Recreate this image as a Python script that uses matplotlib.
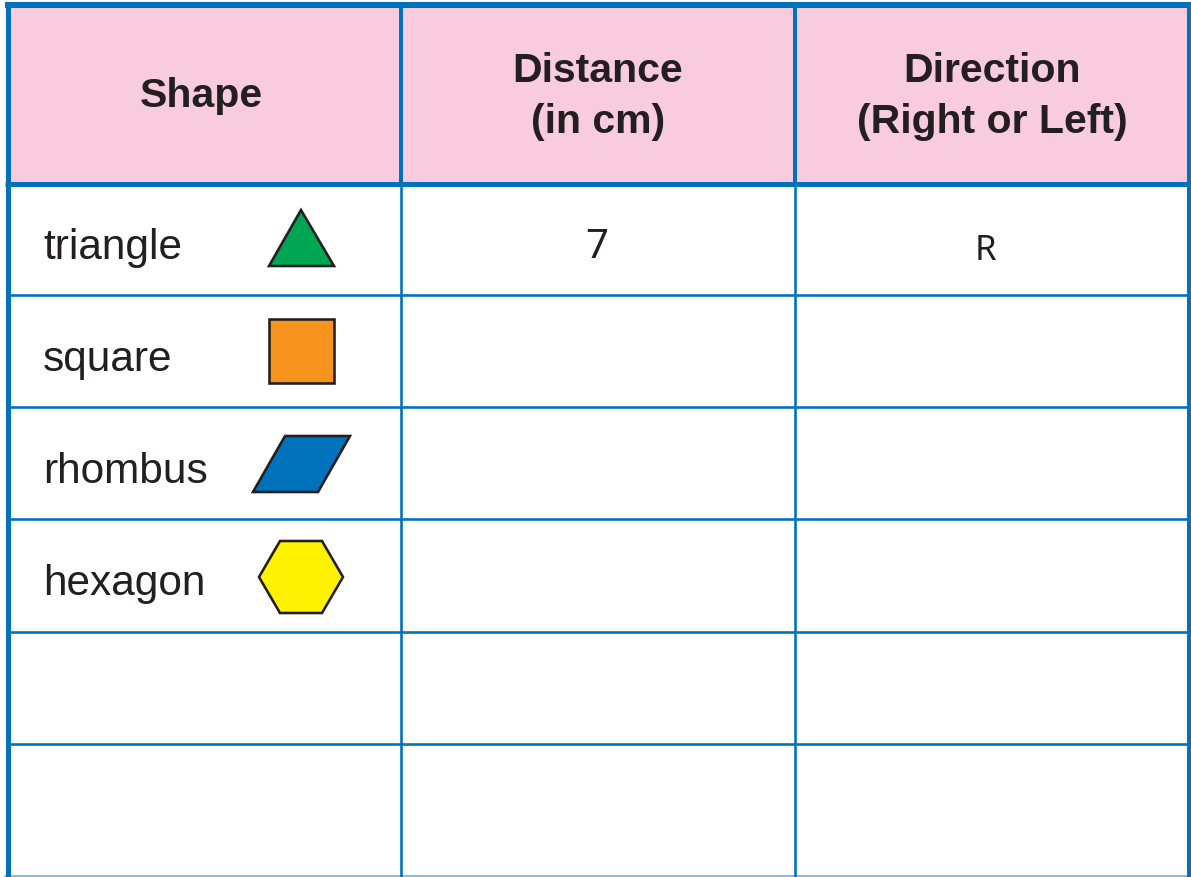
import matplotlib
matplotlib.use('Agg')
from matplotlib import pyplot as plt
from matplotlib.patches import Polygon, Rectangle

# table content
headers = [['Shape'], ['Distance', '(in cm)'], ['Direction', '(Right or Left)']]
shapes = ['triangle', 'square', 'rhombus', 'hexagon']
distance = ['7']
direction = ['R']

# layout, in pixels
W, H = 1191, 878
col_lines = [401, 795]
col_mid = [201, 598, 992]
row_lines = [296, 408, 520, 633, 745]
name_base = [259, 371, 483, 595]
BLUE = '#0072BC'
PINK = '#F9CBDF'
INK = '#231F20'

def px(n):
    return n * 72 / 100

fig = plt.figure(figsize=(W / 100, H / 100), dpi=100)
ax = fig.add_axes([0, 0, 1, 1])
ax.set_xlim(0, W)
ax.set_ylim(H, 0)
ax.axis('off')

# header band and borders
ax.add_patch(Rectangle((8, 6), W - 12, 179, fc=PINK, ec='none', zorder=1))
ax.plot([7.5, 7.5], [3, H], color=BLUE, lw=px(5), solid_capstyle='butt', zorder=3)
ax.plot([W - 2, W - 2], [3, H], color=BLUE, lw=px(5), solid_capstyle='butt', zorder=3)
ax.plot([5, W], [6, 6], color=BLUE, lw=px(6), solid_capstyle='butt', zorder=3)
ax.plot([5, W], [185, 185], color=BLUE, lw=px(5), solid_capstyle='butt', zorder=3)
ax.plot([5, W], [H - 0.5, H - 0.5], color='#5FA8D8', lw=px(1.5), zorder=2)

for x in col_lines:
    ax.plot([x, x], [6, 185], color=BLUE, lw=px(4), solid_capstyle='butt', zorder=2)
    ax.plot([x, x], [185, H], color=BLUE, lw=px(2.6), solid_capstyle='butt', zorder=2)
for y in row_lines:
    ax.plot([8, W - 3], [y, y], color=BLUE, lw=px(2.6), solid_capstyle='butt', zorder=2)

# header text
for x, lines in zip(col_mid, headers):
    bases = [107] if len(lines) == 1 else [82, 133]
    for b, line in zip(bases, lines):
        ax.text(x, b, line, family='Liberation Sans', weight='bold', fontsize=29.5,
                color=INK, ha='center', va='baseline')

for b, name in zip(name_base, shapes):
    ax.text(43, b, name, family='Liberation Sans', fontsize=30.5, color=INK,
            ha='left', va='baseline')

# the four pattern block icons
icons = [
    ([(301, 211), (334, 267), (269, 267)], '#00A651'),
    ([(269, 320), (334, 320), (334, 384), (269, 384)], '#F7941E'),
    ([(285, 437), (350, 437), (318, 493), (253, 493)], BLUE),
    ([(280, 542), (322, 542), (343, 578), (322, 614), (280, 614), (259, 578)], '#FFF200'),
]
for pts, col in icons:
    ax.add_patch(Polygon(pts, closed=True, fc=col, ec=INK, lw=px(2.6), joinstyle='miter', zorder=4))

# handwritten answers
ax.text(597, 258, distance[0], family='Noto Sans', weight='light', fontsize=29,
        color=INK, ha='center', va='baseline')
ax.text(985, 260, direction[0], family='Noto Sans', weight='light', fontsize=25,
        color=INK, ha='center', va='baseline')

fig.savefig('out.png', dpi=100)
